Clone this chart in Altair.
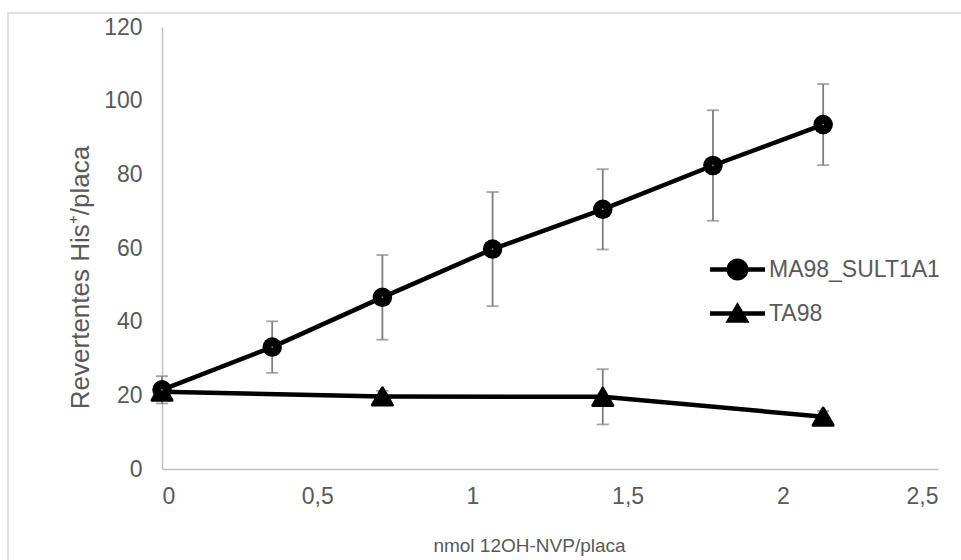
import altair as alt
import pandas as pd

# ---- data ----
series = ["MA98_SULT1A1", "TA98"]
x_ma = [0, 0.355, 0.71, 1.065, 1.42, 1.775, 2.13]
y_ma = [21.5, 33.1, 46.6, 59.7, 70.5, 82.4, 93.5]
e_ma = [3.7, 7.0, 11.5, 15.5, 10.9, 15.0, 11.0]
x_ta = [0, 0.71, 1.42, 2.13]
y_ta = [21.0, 19.7, 19.6, 14.2]
e_ta = [1.0, 1.5, 7.5, 1.5]
x_ticks = [0, 0.5, 1, 1.5, 2, 2.5]
y_ticks = [0, 20, 40, 60, 80, 100, 120]

df = pd.concat([
    pd.DataFrame({"x": x_ma, "y": y_ma, "e": e_ma, "series": series[0]}),
    pd.DataFrame({"x": x_ta, "y": y_ta, "e": e_ta, "series": series[1]}),
], ignore_index=True)
df["lo"] = df["y"] - df["e"]
df["hi"] = df["y"] + df["e"]
df_ma = df[df["series"] == series[0]]
df_ta = df[df["series"] == series[1]]

FONT = "Liberation Sans"
GRAY = "#595959"

xscale = alt.Scale(domain=[0, 2.5], nice=False, zero=False)
yscale = alt.Scale(domain=[0, 120], nice=False)
xaxis = alt.Axis(values=x_ticks, labelExpr="replace(toString(datum.value), '.', ',')",
                 title="nmol 12OH-NVP/placa", grid=False, ticks=False,
                 domainColor="#bfbfbf", domainWidth=1.5, labelPadding=16,
                 titleFontSize=19, titleX=367, titleY=76, titleBaseline="middle")
yaxis = alt.Axis(values=y_ticks, title="Revertentes His⁺/placa", grid=False, ticks=False,
                 domainColor="#bfbfbf", domainWidth=1.5, labelPadding=20,
                 titleFontSize=26, titleX=-74, titleY=250, titleBaseline="alphabetic")

X = alt.X("x:Q", scale=xscale, axis=xaxis)

border = alt.Chart(pd.DataFrame({"a": [0]})).mark_rect(
    fill="transparent", stroke="#d9d9d9", strokeWidth=1.5
).encode(x=alt.value(-154), y=alt.value(-14), x2=alt.value(900), y2=alt.value(700))

rules = alt.Chart(df).mark_rule(color="#7f7f7f", strokeWidth=1.8).encode(
    x=X, y=alt.Y("lo:Q", scale=yscale, axis=yaxis), y2="hi:Q")
cap_lo = alt.Chart(df).mark_tick(color="#7f7f7f", orient="horizontal", size=12, thickness=1.8).encode(
    x=X, y=alt.Y("lo:Q", scale=yscale, axis=yaxis))
cap_hi = alt.Chart(df).mark_tick(color="#7f7f7f", orient="horizontal", size=12, thickness=1.8).encode(
    x=X, y=alt.Y("hi:Q", scale=yscale, axis=yaxis))

lines = alt.Chart(df).mark_line(color="black", strokeWidth=4.5).encode(
    x=X, y=alt.Y("y:Q", scale=yscale, axis=yaxis), detail="series:N")

tri = alt.Chart(df_ta).mark_point(shape="triangle-up", filled=True, size=400, color="black",
                                  stroke="black", strokeWidth=3, strokeJoin="round", opacity=1).encode(
    x=X, y=alt.Y("y:Q", scale=yscale, axis=yaxis))
circ = alt.Chart(df_ma).mark_point(shape="circle", filled=True, size=380, color="black", opacity=1).encode(
    x=X, y=alt.Y("y:Q", scale=yscale, axis=yaxis))
dots = alt.Chart(df_ma).mark_point(shape="square", filled=True, size=2, color="#66cc33", opacity=1).encode(
    x=X, y=alt.Y("y:Q", scale=yscale, axis=yaxis))

p_circle = "M-2.5,-0.2H2.5V0.2H-2.5Z M1,0A1,1 0 1 1 -1,0A1,1 0 1 1 1,0Z"
p_tri = "M-2.5,-0.2H2.5V0.2H-2.5Z M0,-1.05L1.1,0.85L-1.1,0.85Z"

legend_layer = alt.Chart(df).mark_point(filled=True, size=484, color="black", opacity=1).encode(
    x=alt.value(-3000), y=alt.value(-3000),
    shape=alt.Shape("series:N", scale=alt.Scale(domain=series, range=[p_circle, p_tri]),
                    legend=alt.Legend(title=None, orient="none", legendX=564, legendY=231,
                                      symbolSize=484, symbolStrokeWidth=0,
                                      symbolFillColor="black", labelFontSize=23,
                                      labelColor=GRAY, labelFont=FONT, labelOffset=20,
                                      labelLimit=400, rowPadding=19, padding=0)))

chart = alt.layer(border, rules, cap_lo, cap_hi, lines, tri, circ, dots, legend_layer).properties(
    width=776, height=442,
    autosize=alt.AutoSizeParams(type="none"),
    padding={"left": 162, "top": 27, "right": 23, "bottom": 91},
    background="white",
).configure_view(strokeWidth=0).configure_axis(
    labelFont=FONT, titleFont=FONT, labelFontSize=23,
    labelColor=GRAY, titleColor=GRAY, titleFontWeight="normal",
)

chart.save("out.html", embed_options={"renderer": "svg", "actions": False})
